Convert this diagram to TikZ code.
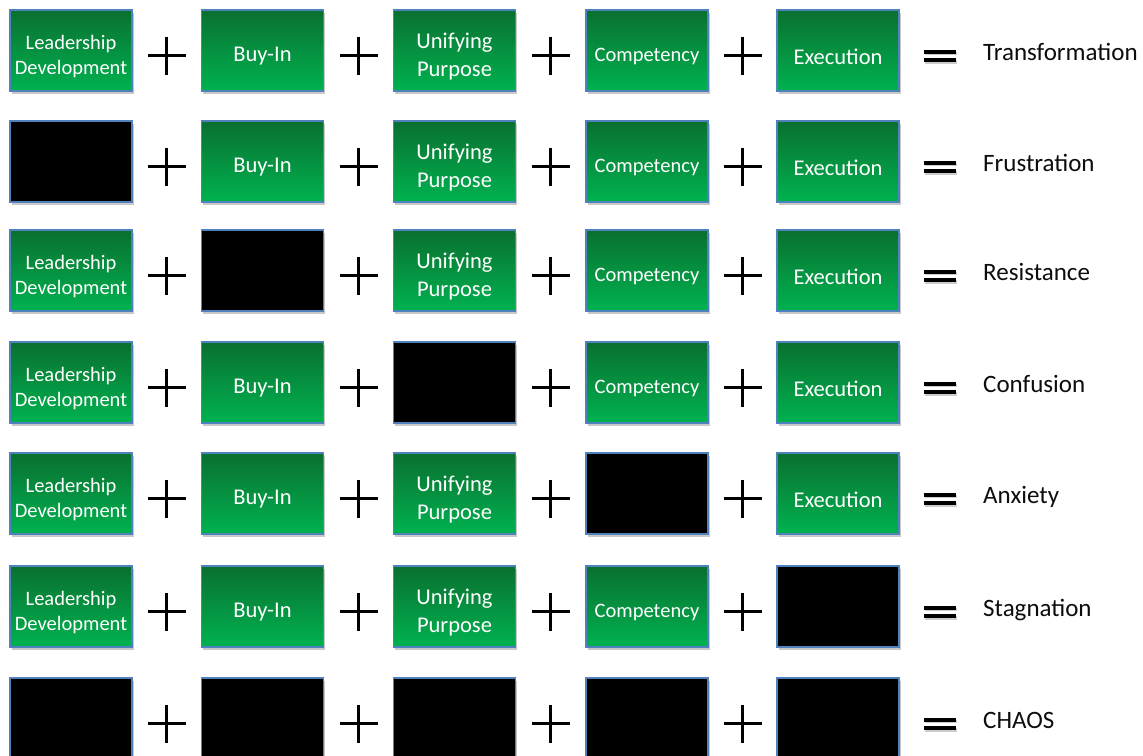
\documentclass[tikz,border=0pt]{standalone}
\usepackage{fontspec}
\setmainfont{Carlito}
\usetikzlibrary{shadows,calc}
\definecolor{gtop}{RGB}{10,112,48}
\definecolor{gbot}{RGB}{0,178,80}
\definecolor{edgeblue}{RGB}{79,129,189}
\definecolor{restext}{RGB}{13,13,13}
\tikzset{
  box/.style={draw=edgeblue, line width=1.1pt, minimum width=122pt, minimum height=81pt,
    inner sep=0pt,
    drop shadow={shadow xshift=1.5pt, shadow yshift=-2.5pt, opacity=0.3, fill=black!70}},
  gbox/.style={box, top color=gtop, bottom color=gbot},
  kbox/.style={box, fill=black},
  boxtext/.style={inner sep=0pt, align=center, text=white},
  res/.style={anchor=base west, font=\fontsize{25}{30}\selectfont, inner sep=0pt, text=restext},
  plusmark/.style={line width=2.8pt, draw=black},
  eqmark/.style={line width=3.6pt, draw=black}
}
\begin{document}
\begin{tikzpicture}[x=1pt,y=-1pt]
\useasboundingbox (0,0) rectangle (1143,755);
\fill[white] (0,0) rectangle (1143,755);
\foreach \r/\y/\k/\res in {1/50.5/0/Transformation, 2/161.5/1/Frustration, 3/270.5/2/Resistance,
  4/382.5/3/Confusion, 5/493.5/4/Anxiety, 6/606.5/5/Stagnation, 7/718.5/9/CHAOS}{
  \foreach \c/\x/\fs/\ls/\lab in {1/71/20.5/25/{Leadership\\Development}, 2/262.5/22.5/27.5/{Buy-In},
    3/454.5/22.5/27.5/{Unifying\\Purpose}, 4/647/20.5/25/{Competency}, 5/838/22.5/27.5/{Execution}}{
    \pgfmathtruncatemacro{\isblack}{(\k==\c) || (\k==9) ? 1 : 0}
    \ifnum\isblack=1
      \node[kbox] (b\r\c) at (\x,\y) {};
    \else
      \node[gbox] (b\r\c) at (\x,\y) {};
      \node[boxtext, font=\fontsize{\fs pt}{\ls pt}\selectfont] (l\r\c) at ($(b\r\c.center)+(0,6)$) {\lab};
    \fi
  }
  \foreach \c in {1,2,3,4}{
    \pgfmathtruncatemacro{\cn}{\c+1}
    \coordinate (p\r\c) at ($(b\r\c.east)!0.5!(b\r\cn.west)+(0,5)$);
    \draw[plusmark] ($(p\r\c)+(-19,0)$) -- ($(p\r\c)+(19,0)$);
    \draw[plusmark] ($(p\r\c)+(0,-19)$) -- ($(p\r\c)+(0,19)$);
  }
  \coordinate (e\r) at ($(b\r5.east)+(40,5.5)$);
  \draw[eqmark, draw=black!20] ($(e\r)+(-15,-2.5)$) -- ($(e\r)+(17,-2.5)$);
  \draw[eqmark, draw=black!20] ($(e\r)+(-15,6)$) -- ($(e\r)+(17,6)$);
  \draw[eqmark] ($(e\r)+(-16,-4)$) -- ($(e\r)+(16,-4)$);
  \draw[eqmark] ($(e\r)+(-16,4)$) -- ($(e\r)+(16,4)$);
  \node[res] (t\r) at (983,{\y+9.5}) {\res};
}
\end{tikzpicture}
\end{document}
